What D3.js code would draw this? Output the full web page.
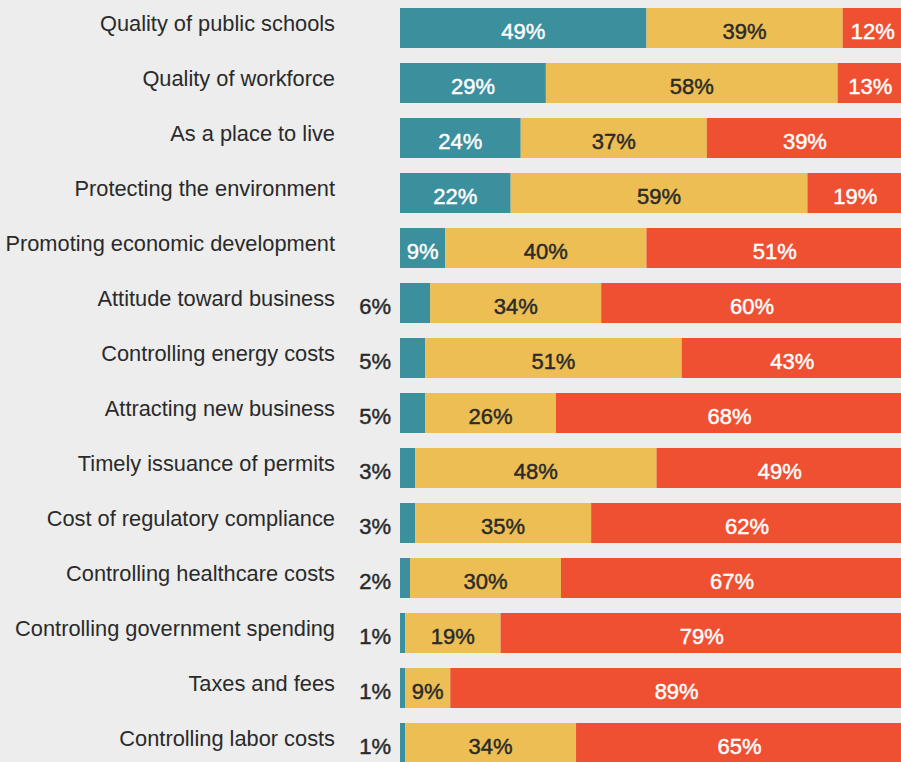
<!DOCTYPE html>
<html>
<head>
<meta charset="utf-8">
<script src="https://cdn.jsdelivr.net/npm/d3@7"></script>
<style>
  html, body { margin: 0; padding: 0; background: #ecedec; overflow: hidden; }
  svg { display: block; font-family: "Liberation Sans", Arial, Helvetica, sans-serif; }
  .val { stroke-width: 0.45px; }
</style>
</head>
<body>
<div id="chart"></div>
<script>

const categories = [
    "Quality of public schools",
    "Quality of workforce",
    "As a place to live",
    "Protecting the environment",
    "Promoting economic development",
    "Attitude toward business",
    "Controlling energy costs",
    "Attracting new business",
    "Timely issuance of permits",
    "Cost of regulatory compliance",
    "Controlling healthcare costs",
    "Controlling government spending",
    "Taxes and fees",
    "Controlling labor costs"
];

const good = [49, 29, 24, 22, 9, 6, 5, 5, 3, 3, 2, 1, 1, 1];
const neutral = [39, 58, 37, 59, 40, 34, 51, 26, 48, 35, 30, 19, 9, 34];
const poor = [12, 13, 39, 19, 51, 60, 43, 68, 49, 62, 67, 79, 89, 65];

const width = 901;
const height = 762;

const svg = d3.select("#chart")
    .append("svg")
    .attr("width", width)
    .attr("height", height);

// x scale for percentages
const x = d3.scaleLinear()
    .domain([0, 100])
    .range([400, 903]);

// 55px per row, 40px bars
const rowStep = 55;
const gap = 15;
const y = d3.scaleBand()
    .domain(categories)
    .range([8, 8 + rowStep * categories.length - gap])
    .paddingInner(gap / rowStep)
    .paddingOuter(0);

const colors = {
    good: "#3c8f9c",
    neutral: "#ecbe53",
    poor: "#f05032"
};

const rows = categories.map(function(c, i) {
    return {
        name: c,
        good: good[i],
        neutral: neutral[i],
        poor: poor[i]
    };
});

const row = svg.selectAll("g.row")
    .data(rows)
    .enter()
    .append("g")
    .attr("class", "row")
    .attr("transform", function(d) {
        return "translate(0," + y(d.name) + ")";
    });

const bh = y.bandwidth();

// category labels
row.append("text")
    .attr("x", 335)
    .attr("y", 23)
    .attr("text-anchor", "end")
    .attr("font-size", "21.8px")
    .attr("fill", "#2a2a2a")
    .text(function(d) { return d.name; });

// teal
row.append("rect")
    .attr("x", x(0))
    .attr("y", 0)
    .attr("width", function(d) { return x(d.good) - x(0); })
    .attr("height", bh)
    .attr("fill", colors.good);

// yellow
row.append("rect")
    .attr("x", function(d) { return x(d.good); })
    .attr("y", 0)
    .attr("width", function(d) { return x(d.good + d.neutral) - x(d.good); })
    .attr("height", bh)
    .attr("fill", colors.neutral);

// red runs to the end
row.append("rect")
    .attr("x", function(d) { return x(d.good + d.neutral); })
    .attr("y", 0)
    .attr("width", function(d) { return x(100) - x(d.good + d.neutral); })
    .attr("height", bh)
    .attr("fill", colors.poor);

// value labels
row.append("text")
    .attr("class", "val")
    .attr("x", function(d) {
        if (d.good < 9) return 391;
        return (x(0) + x(d.good)) / 2;
    })
    .attr("y", 31)
    .attr("text-anchor", function(d) { return d.good < 9 ? "end" : "middle"; })
    .attr("font-size", "22px")
    .attr("fill", function(d) { return d.good < 9 ? "#2a2a2a" : "#ffffff"; })
    .attr("stroke", function(d) { return d.good < 9 ? "#2a2a2a" : "#ffffff"; })
    .text(function(d) { return d.good + "%"; });

row.append("text")
    .attr("class", "val")
    .attr("x", function(d) { return (x(d.good) + x(d.good + d.neutral)) / 2; })
    .attr("y", 31)
    .attr("text-anchor", "middle")
    .attr("font-size", "22px")
    .attr("fill", "#2a2a2a")
    .attr("stroke", "#2a2a2a")
    .text(function(d) { return d.neutral + "%"; });

row.append("text")
    .attr("class", "val")
    .attr("x", function(d) { return (x(d.good + d.neutral) + x(100)) / 2; })
    .attr("y", 31)
    .attr("text-anchor", "middle")
    .attr("font-size", "22px")
    .attr("fill", "#ffffff")
    .attr("stroke", "#ffffff")
    .text(function(d) { return d.poor + "%"; });

</script>
</body>
</html>
